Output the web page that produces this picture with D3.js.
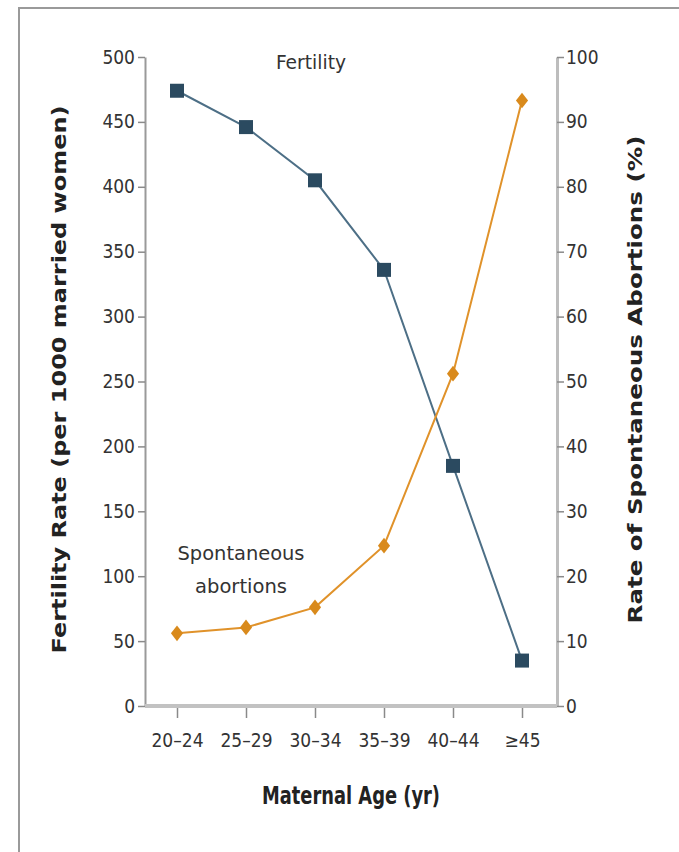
<!DOCTYPE html>
<html>
<head>
<meta charset="utf-8">
<script src="https://cdn.jsdelivr.net/npm/d3@7"></script>
<style>
  html, body { margin: 0; padding: 0; background: #fff; }
  svg { display: block; }
  .cond { font-family: "DejaVu Sans", sans-serif; font-stretch: condensed; }
</style>
</head>
<body>
<div id="chart"></div>
<script>
const ageGroups = ['20–24', '25–29', '30–34', '35–39', '40–44', '≥45'];
const fertilityRate = [474, 446, 405, 336, 185, 35];
const abortionRate = [11.2, 12.1, 15.2, 24.7, 51.2, 93.3];
const leftTicks = [0, 50, 100, 150, 200, 250, 300, 350, 400, 450, 500];
const rightTicks = [0, 10, 20, 30, 40, 50, 60, 70, 80, 90, 100];

const width = 679, height = 852;
const margin = { top: 57, right: 122, bottom: 146, left: 145 };
const plotRight = width - margin.right;
const plotBottom = height - margin.bottom;

const titleFont = '"DejaVu Sans", Verdana, sans-serif';

const svg = d3.select('#chart').append('svg')
  .attr('width', width).attr('height', height);

// frame: only top and left edges are visible in the figure
svg.append('path')
  .attr('d', `M19,${height} V8 H${width}`)
  .attr('fill', 'none').attr('stroke', '#9a9a9a').attr('stroke-width', 2);

const x = d3.scalePoint().domain(ageGroups).range([177, 522]);
const yLeft = d3.scaleLinear().domain([0, 500]).range([plotBottom, margin.top]);
const yRight = d3.scaleLinear().domain([0, 100]).range([plotBottom, margin.top]);

function styleAxis(g, lineColor, lineWidth) {
  g.selectAll('.domain').attr('stroke', lineColor).attr('stroke-width', lineWidth);
  g.selectAll('.tick line').attr('stroke', '#8a8a8a').attr('stroke-width', 1.5);
  g.selectAll('.tick text')
    .attr('fill', '#333').attr('class', 'cond').style('font-size', '19px');
}

// left axis
const leftAxis = svg.append('g').attr('transform', `translate(${margin.left},0)`)
  .call(d3.axisLeft(yLeft).tickValues(leftTicks).tickSize(7).tickSizeOuter(0).tickPadding(3));
styleAxis(leftAxis, '#9a9a9a', 2);

// right axis
const rightAxis = svg.append('g').attr('transform', `translate(${plotRight},0)`)
  .call(d3.axisRight(yRight).tickValues(rightTicks).tickSize(7).tickSizeOuter(0).tickPadding(2));
styleAxis(rightAxis, '#bdbdbd', 3);

// baseline
svg.append('line')
  .attr('x1', margin.left).attr('x2', plotRight)
  .attr('y1', plotBottom).attr('y2', plotBottom)
  .attr('stroke', '#c2c2c2').attr('stroke-width', 4);

// bottom axis ticks and labels
const bottomAxis = svg.append('g').attr('transform', `translate(0,${plotBottom + 2})`)
  .call(d3.axisBottom(x).tickSize(10).tickPadding(16));
bottomAxis.select('.domain').remove();
styleAxis(bottomAxis, 'none', 0);

// axis titles
svg.append('text')
  .attr('class', 'cond')
  .attr('x', 351).attr('y', 804)
  .attr('text-anchor', 'middle').attr('fill', '#222')
  .attr('textLength', 178).attr('lengthAdjust', 'spacingAndGlyphs')
  .style('font-weight', 'bold').style('font-size', '24px')
  .text('Maternal Age (yr)');

svg.append('text')
  .attr('transform', `translate(66,${(margin.top + plotBottom) / 2 - 2}) rotate(-90)`)
  .attr('text-anchor', 'middle').attr('fill', '#222')
  .attr('textLength', 548).attr('lengthAdjust', 'spacingAndGlyphs')
  .style('font-family', titleFont).style('font-weight', 'bold').style('font-size', '20px')
  .text('Fertility Rate (per 1000 married women)');

svg.append('text')
  .attr('transform', `translate(642,${(margin.top + plotBottom) / 2 - 2}) rotate(-90)`)
  .attr('text-anchor', 'middle').attr('fill', '#222')
  .attr('textLength', 488).attr('lengthAdjust', 'spacingAndGlyphs')
  .style('font-family', titleFont).style('font-weight', 'bold').style('font-size', '20px')
  .text('Rate of  Spontaneous Abortions (%)');

// series
const fertility = ageGroups.map((a, i) => ({ age: a, value: fertilityRate[i] }));
const abortions = ageGroups.map((a, i) => ({ age: a, value: abortionRate[i] }));

svg.append('path')
  .datum(fertility)
  .attr('d', d3.line().x((d) => x(d.age)).y((d) => yLeft(d.value)))
  .attr('fill', 'none').attr('stroke', '#4d6f86').attr('stroke-width', 2);

svg.append('path')
  .datum(abortions)
  .attr('d', d3.line().x((d) => x(d.age)).y((d) => yRight(d.value)))
  .attr('fill', 'none').attr('stroke', '#e0922a').attr('stroke-width', 2);

svg.append('g').selectAll('rect').data(fertility).join('rect')
  .attr('x', (d) => x(d.age) - 7).attr('y', (d) => yLeft(d.value) - 7)
  .attr('width', 14).attr('height', 14)
  .attr('fill', '#2b4a60');

svg.append('g').selectAll('path').data(abortions).join('path')
  .attr('d', d3.symbol(d3.symbolDiamond2, 130))
  .attr('transform', (d) => `translate(${x(d.age)},${yRight(d.value)}) scale(0.85,1.1)`)
  .attr('fill', '#d98a1c');

// series labels
svg.append('text')
  .attr('class', 'cond')
  .attr('x', 311).attr('y', 69).attr('text-anchor', 'middle').attr('fill', '#333')
  .attr('textLength', 70).attr('lengthAdjust', 'spacingAndGlyphs')
  .style('font-size', '20px')
  .text('Fertility');

const spont = svg.append('text')
  .attr('class', 'cond')
  .attr('x', 241).attr('y', 560).attr('text-anchor', 'middle').attr('fill', '#333')
  .style('font-size', '20px');
spont.append('tspan').attr('x', 241).attr('dy', 0)
  .attr('textLength', 127).attr('lengthAdjust', 'spacingAndGlyphs').text('Spontaneous');
spont.append('tspan').attr('x', 241).attr('dy', 33)
  .attr('textLength', 92).attr('lengthAdjust', 'spacingAndGlyphs').text('abortions');
</script>
</body>
</html>
